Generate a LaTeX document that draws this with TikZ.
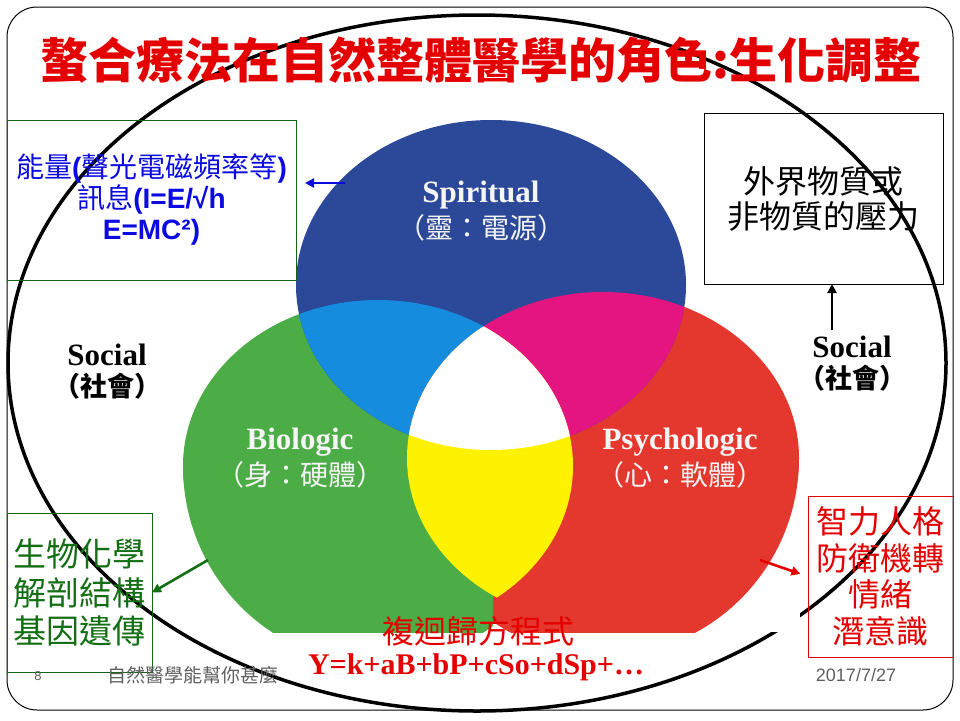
\documentclass[tikz,border=0pt]{standalone}
\usepackage{fontspec}
\setmainfont{Liberation Serif}
\newfontfamily\cjk{Noto Sans CJK TC}
\newfontfamily\arial{Liberation Sans}
\usepackage{xcolor}
\usetikzlibrary{arrows.meta, positioning}

\definecolor{vennblue}{RGB}{44,72,152}
\definecolor{venngreen}{RGB}{76,172,70}
\definecolor{vennred}{RGB}{228,56,46}
\definecolor{venncyan}{RGB}{22,140,222}
\definecolor{vennmagenta}{RGB}{228,20,128}
\definecolor{vennyellow}{RGB}{255,242,0}
\definecolor{titlered}{RGB}{228,0,0}
\definecolor{textblue}{RGB}{10,10,225}
\definecolor{boxgreen}{RGB}{20,100,20}
\definecolor{textgreen}{RGB}{20,110,20}
\definecolor{footgray}{RGB}{95,95,95}

\begin{document}
\begin{tikzpicture}[
    x=1pt, y=-1pt,
    every node/.style={inner sep=0pt, outer sep=0pt},
    infobox/.style={rectangle, draw=#1, line width=0.8pt, align=center},
    infobox/.default=black,
    circlelabel/.style={text=gray!8, font=\bfseries\fontsize{31}{34}\selectfont},
    circlesub/.style={text=gray!8, font=\cjk\fontsize{28}{30}\selectfont},
    sociallabel/.style={font=\bfseries\fontsize{31}{34}\selectfont},
    socialsub/.style={font=\cjk\bfseries\fontsize{27}{30}\selectfont},
    footer/.style={text=footgray, font=\arial\fontsize{18}{20}\selectfont},
    arrow/.style={-{Triangle[length=9pt, width=9pt]}, line width=2.6pt, color=#1},
    arrow/.default=black,
]
\useasboundingbox (0,0) rectangle (960,720);

% --- slide frame and outer ring ---
\draw[line width=1pt, rounded corners=30pt] (7,7) rectangle (953,710);
\draw[line width=3.5pt] (477,363) ellipse [x radius=469pt, y radius=348pt];

% --- Venn picture ---
\fill[white] (183,118) rectangle (800,632);
\begin{scope}
    \clip (183,118) rectangle (800,632);
    % red, with a longer lower half
    \fill[vennred] (603,458) ellipse [x radius=196pt, y radius=166pt];
    \begin{scope}
        \clip (0,458) rectangle (960,720);
        \fill[vennred] (603,458) ellipse [x radius=196pt, y radius=198pt];
    \end{scope}
    % green, on top of red left of the seam
    \begin{scope}
        \clip (0,0) rectangle (493,720);
        \fill[venngreen] (378,466) ellipse [x radius=195pt, y radius=166pt];
        \clip (0,466) rectangle (960,720);
        \fill[venngreen] (378,466) ellipse [x radius=195pt, y radius=198pt];
    \end{scope}
    % blue
    \fill[vennblue] (491,285) ellipse [x radius=195pt, y radius=165pt];
    \begin{scope}
        \clip (378,466) ellipse [x radius=195pt, y radius=166pt];
        \fill[venncyan] (491,285) ellipse [x radius=195pt, y radius=165pt];
    \end{scope}
    \begin{scope}
        \clip (603,458) ellipse [x radius=196pt, y radius=166pt];
        \fill[vennmagenta] (491,285) ellipse [x radius=195pt, y radius=165pt];
    \end{scope}
    \begin{scope}
        \clip (378,466) ellipse [x radius=195pt, y radius=166pt];
        \clip (603,458) ellipse [x radius=196pt, y radius=166pt];
        \fill[vennyellow] (183,118) rectangle (800,632);
        \fill[white] (491,285) ellipse [x radius=195pt, y radius=165pt];
    \end{scope}
\end{scope}

% --- title ---
\node[text=titlered, font=\cjk\bfseries\fontsize{48}{52}\selectfont] (title) at (481,60)
    {螯合療法在自然整體醫學的角色:生化調整};

% --- circle labels ---
\node[circlelabel] (spirit) at (481,195) {Spiritual};
\node[circlesub, below=5pt of spirit] (spiritzh) {（靈：電源）};
\node[circlelabel] (bio) at (300,442) {Biologic};
\node[circlesub, below=5pt of bio] (biozh) {（身：硬體）};
\node[circlelabel] (psy) at (680,442) {Psychologic};
\node[circlesub, below=5pt of psy] (psyzh) {（心：軟體）};

% --- social ---
\node[sociallabel] (socialL) at (107,355) {Social};
\node[socialsub, below=7pt of socialL] (socialLzh) {（社會）};
\node[sociallabel] (socialR) at (852,347) {Social};
\node[socialsub, below=7pt of socialR] (socialRzh) {（社會）};

% --- side boxes ---
\node[infobox=boxgreen, minimum width=289pt, minimum height=160pt, text=textblue,
    font=\fontsize{28}{31}\selectfont] (energybox) at (151.5,200)
    {{\cjk 能量}{\arial\bfseries (}{\cjk 聲光電磁頻率等}{\arial\bfseries )}\\
     {\cjk 訊息}{\arial\bfseries (I=E/√h}\\
     {\arial\bfseries E=MC²)}};
\node[infobox, minimum width=239pt, minimum height=171pt,
    font=\cjk\fontsize{32}{35}\selectfont] (stressbox) at (823.5,198.5)
    {外界物質或\\非物質的壓力};
\node[infobox=boxgreen, minimum width=145pt, minimum height=159pt, text=textgreen,
    font=\cjk\fontsize{33}{38.5}\selectfont] (biobox) at (79.5,592.5)
    {生物化學\\解剖結構\\基因遺傳};
\node[infobox=titlered, minimum width=145pt, minimum height=161pt, text=titlered,
    font=\cjk\fontsize{32}{36.5}\selectfont] (psybox) at (880.5,576.5)
    {智力人格\\防衛機轉\\情緒\\潛意識};

% --- regression ---
\node[text=titlered, font=\cjk\fontsize{32}{34}\selectfont] (regzh) at (478,631) {複迴歸方程式};
\node[text=titlered, font=\bfseries\fontsize{30}{32}\selectfont] (regeq) at (476,667) {Y=k+aB+bP+cSo+dSp+…};

% --- footer ---
\node[footer, font=\arial\fontsize{13}{15}\selectfont] (pagenum) at (38,676) {8};
\node[footer, font=\cjk\fontsize{19}{21}\selectfont] (foottext) at (193,675) {自然醫學能幫你甚麼};
\node[footer] (date) at (856,675) {2017/7/27};

% --- arrows ---
\coordinate (spirittail) at (345,183);
\coordinate (biotail) at (208,560);
\coordinate (psytail) at (760,560);
\draw[arrow=textblue] (spirittail) -- ([xshift=9pt]energybox.east |- spirittail);
\draw[arrow] ([xshift=-20pt, yshift=6pt]socialR.north) -- ([xshift=-20pt]socialR.north |- stressbox.south);
\draw[arrow=textgreen] (biotail) -- (biobox.east);
\draw[arrow=titlered, shorten >=8pt] (psytail) -- (psybox.west);

\end{tikzpicture}
\end{document}
